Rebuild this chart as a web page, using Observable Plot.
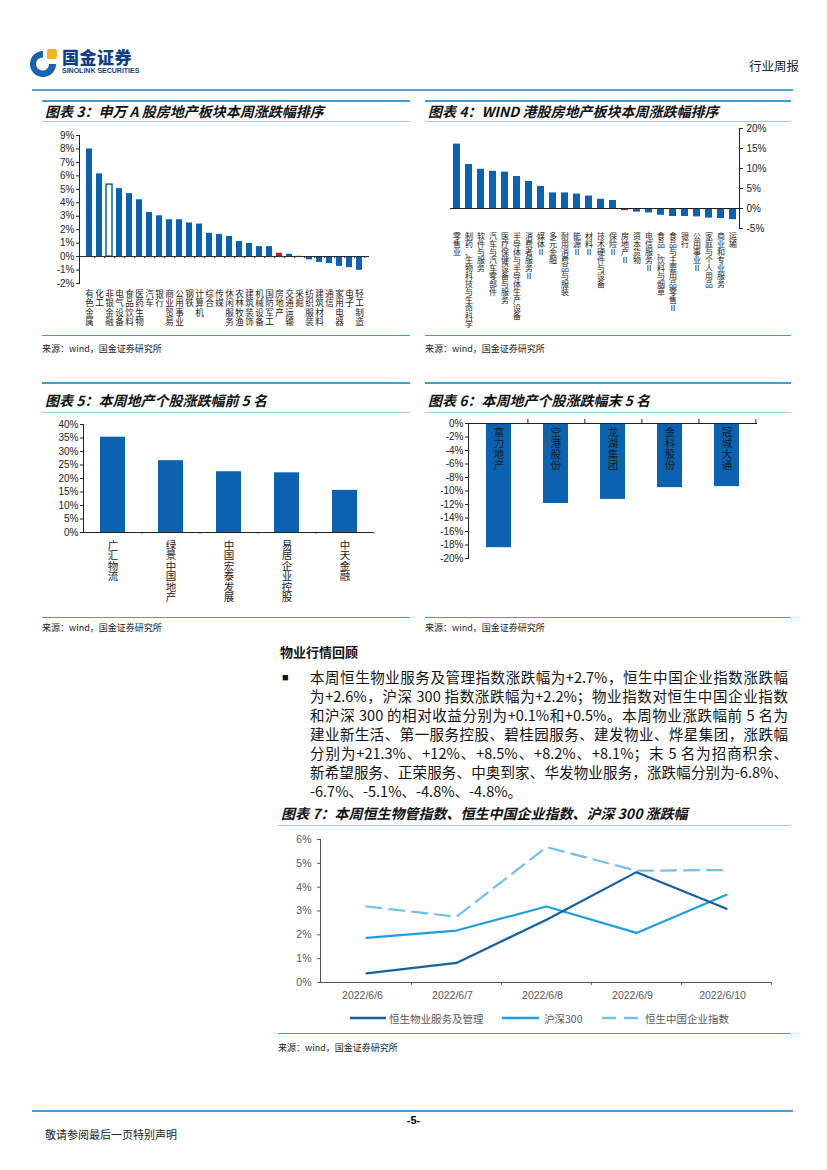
<!DOCTYPE html>
<html><head><meta charset="utf-8">
<script src="https://cdn.jsdelivr.net/npm/d3@7"></script>
<script src="https://cdn.jsdelivr.net/npm/@observablehq/plot@0.6"></script>
<style>
body{margin:0;background:#fff;}
#page{position:relative;width:827px;height:1170px;overflow:hidden;background:#fff;font-family:"Liberation Sans","Noto Sans CJK SC",sans-serif;color:#000;}
.abs{position:absolute;}
.ln{position:absolute;height:0;border-top:2px solid #3c9fd8;}
.ln1{position:absolute;height:0;border-top:1px solid #9ccfee;}
.title{position:absolute;font-family:"Noto Sans CJK SC";font-weight:700;font-style:italic;font-size:14px;white-space:nowrap;line-height:16px;color:#111;}
.src{position:absolute;font-family:"Noto Sans CJK SC";font-size:9px;line-height:11px;color:#222;white-space:nowrap;}
.para{position:absolute;left:310px;width:478px;font-family:"Noto Sans CJK SC";font-size:14.5px;line-height:16px;text-align:justify;text-align-last:justify;white-space:nowrap;color:#111;}
.chart{position:absolute;}
.chart svg{overflow:visible;}
.leg{position:absolute;font-family:"Noto Sans CJK SC","Liberation Sans";font-size:10.5px;color:#595959;line-height:12px;white-space:nowrap;}
</style></head>
<body><div id="page"></div>
<script>
// ---------------- DATA ----------------
const swCategories = ["有色金属","化工","非银金融","电气设备","食品饮料","医药生物","汽车","银行","商业贸易","公用事业","钢铁","计算机","综合","传媒","休闲服务","农林牧渔","建筑装饰","机械设备","国防军工","房地产","交通运输","采掘","纺织服装","建筑材料","通信","家用电器","电子","轻工制造"];
const swValues = [8.0,6.15,5.35,5.05,4.68,4.22,3.28,3.03,2.74,2.74,2.5,2.42,1.73,1.65,1.5,1.12,0.98,0.74,0.74,0.25,0.17,0.02,-0.24,-0.43,-0.52,-0.73,-0.82,-1.02];
const swHighlight = "房地产";
const swOutlined = "非银金融";
const swTicks = [-2,-1,0,1,2,3,4,5,6,7,8,9];

const hkCategories = ["零售业","制药、生物科技与生命科学","软件与服务","汽车与汽车零部件","医疗保健设备与服务","半导体与半导体生产设备","消费者服务Ⅱ","媒体Ⅱ","多元金融","耐用消费品与服装","能源Ⅱ","材料Ⅱ","技术硬件与设备","保险Ⅱ","房地产Ⅱ","资本货物","电信服务Ⅱ","食品、饮料与烟草","食品与主要用品零售Ⅱ","银行","公用事业Ⅱ","家庭与个人用品","商业和专业服务","运输"];
const hkValues = [16.1,11.0,9.8,9.3,9.1,8.0,6.75,5.5,3.9,3.9,3.6,3.1,2.3,2.0,-0.55,-0.9,-1.1,-1.7,-2.0,-2.0,-2.1,-2.4,-2.5,-2.8];
const hkHighlight = "房地产Ⅱ";
const hkTicks = [-5,0,5,10,15,20];

const topStocks = ["广汇物流","绿景中国地产","中国宏泰发展","易居企业控股","中天金融"];
const topValues = [35.3,26.6,22.5,22.1,15.6];
const topTicks = [0,5,10,15,20,25,30,35,40];

const bottomStocks = ["富力地产","空港股份","龙湖集团","金科股份","冠城大通"];
const bottomValues = [-18.4,-11.85,-11.25,-9.5,-9.35];
const bottomTicks = [-20,-18,-16,-14,-12,-10,-8,-6,-4,-2,0];

const dates = ["2022/6/6","2022/6/7","2022/6/8","2022/6/9","2022/6/10"];
const seriesNames = ["恒生物业服务及管理","沪深300","恒生中国企业指数"];
const hsPropertyMgmt = [0.38,0.82,2.63,4.63,3.09];
const csi300 = [1.87,2.18,3.19,2.08,3.68];
const hsChinaEnt = [3.19,2.76,5.68,4.69,4.72];
const lineTicks = [0,1,2,3,4,5,6];

const paraLines = [
 "本周恒生物业服务及管理指数涨跌幅为+2.7%，恒生中国企业指数涨跌幅",
 "为+2.6%，沪深 300 指数涨跌幅为+2.2%；物业指数对恒生中国企业指数",
 "和沪深 300 的相对收益分别为+0.1%和+0.5%。本周物业涨跌幅前 5 名为",
 "建业新生活、第一服务控股、碧桂园服务、建发物业、烨星集团，涨跌幅",
 "分别为+21.3%、+12%、+8.5%、+8.2%、+8.1%；末 5 名为招商积余、",
 "新希望服务、正荣服务、中奥到家、华发物业服务，涨跌幅分别为-6.8%、",
 "-6.7%、-5.1%、-4.8%、-4.8%。"
];

// ---------------- STYLE ----------------
const BLUE = "#0a62b0", RED = "#c8171e", AX = "#222";
const DARK = "#155fa3", MID = "#1e9fe0", LIGHT = "#70c1ee";
const pstyle = {fontFamily:"Liberation Sans, Noto Sans CJK SC, sans-serif", fontSize:"10px", color:"#222", background:"transparent", overflow:"visible"};
const page = document.getElementById("page");
function add(html){ page.insertAdjacentHTML("beforeend", html); }
function place(el, left, top){ const d=document.createElement("div"); d.className="chart"; d.style.left=left+"px"; d.style.top=top+"px"; d.appendChild(el); page.appendChild(d); }
const vert = s => s.split("").join("\n");

// ---------------- HEADER / FRAMES ----------------
add(`<svg class="abs" style="left:30px;top:47px" width="30" height="32" viewBox="0 0 30 32">
<path d="M13 4 A13 13 0 1 0 26 17 L19 17 A6.5 6.5 0 1 1 13 10.5 Z" fill="#1565b5"/>
<rect x="17" y="2" width="10" height="10" rx="2" fill="#f2b51c"/></svg>`);
add(`<div class="abs" style="left:62px;top:48px;font-family:'Noto Sans CJK SC';font-weight:900;font-size:17px;line-height:18px;color:#0d3f86;letter-spacing:0.5px">国金证券</div>`);
add(`<div class="abs" style="left:62px;top:67px;font-family:'Liberation Sans';font-weight:700;font-size:7px;line-height:8px;color:#0d3f86">SINOLINK SECURITIES</div>`);
add(`<div class="abs" style="left:749px;top:59px;font-family:'Noto Sans CJK SC';font-size:12.5px;line-height:14px;color:#222">行业周报</div>`);
add(`<div class="ln" style="left:32px;top:89px;width:761px;border-top-color:#4aa6d9"></div>`);

function frame(left, width, topLine, titleTop, underLine, bottomLine, srcTop, title){
  if (topLine!==null) add(`<div class="ln" style="left:${left}px;top:${topLine}px;width:${width}px"></div>`);
  add(`<div class="title" style="left:${left+3}px;top:${titleTop}px">${title}</div>`);
  add(`<div class="ln1" style="left:${left}px;top:${underLine}px;width:${width}px"></div>`);
  add(`<div class="ln" style="left:${left}px;top:${bottomLine}px;width:${width}px;border-top-width:1.5px"></div>`);
  add(`<div class="src" style="left:${left}px;top:${srcTop}px">来源：wind，国金证券研究所</div>`);
}
frame(42, 368, 100, 103, 121, 335, 343, "图表 3：申万 A 股房地产板块本周涨跌幅排序");
frame(425, 366, 100, 103, 121, 335, 343, "图表 4：WIND 港股房地产板块本周涨跌幅排序");
frame(42, 368, 382, 392, 412, 617, 622, "图表 5：本周地产个股涨跌幅前 5 名");
frame(425, 366, 382, 392, 412, 617, 622, "图表 6：本周地产个股涨跌幅末 5 名");
frame(278, 513, null, 805, 825, 1033, 1042, "图表 7：本周恒生物管指数、恒生中国企业指数、沪深 300 涨跌幅");

// ---------------- CHART 3 ----------------
{
  const data = swCategories.map((c,i)=>({c, v: swValues[i]}));
  const W = 290, step = W/swCategories.length;
  const ch = Plot.plot({
    width: 39+W+2, height: 10+148+50, marginLeft: 39, marginRight: 2, marginTop: 10, marginBottom: 50,
    style: pstyle,
    x: {domain: swCategories, paddingInner: 0.42, paddingOuter: 0.21, axis: null},
    y: {domain: [-2, 9], ticks: swTicks, tickFormat: d => d + "%", tickSize: 3, tickPadding: 2, label: null},
    marks: [
      Plot.barY(data, {x: "c", y: "v", fill: d => d.c === swHighlight ? RED : d.c === swOutlined ? "#fff" : BLUE, stroke: d => d.c === swOutlined ? BLUE : "none", strokeWidth: 1.5}),
      Plot.ruleY([0], {stroke: AX, strokeWidth: 1}),
      Plot.ruleX(swCategories, {x: d => d, y1: 0, y2: -0.15, dx: step/2, stroke: AX}),
      Plot.frame({anchor: "left", stroke: AX}),
      Plot.text(swCategories, {x: d => d, y: -2, text: vert, lineAnchor: "top", dy: 7, fontSize: 8.6, lineHeight: 1.08, fill: "#222"})
    ]
  });
  place(ch, 40, 125);
}

// ---------------- CHART 4 ----------------
{
  const data = hkCategories.map((c,i)=>({c, v: hkValues[i]}));
  const W = 289, step = W/hkCategories.length;
  const ch = Plot.plot({
    width: 25+W+40, height: 8+100+110, marginLeft: 25, marginRight: 40, marginTop: 8, marginBottom: 110,
    style: pstyle,
    x: {domain: hkCategories, paddingInner: 0.45, paddingOuter: 0.225, axis: null},
    y: {domain: [-5, 20], axis: "right", ticks: hkTicks, tickFormat: d => d + "%", tickSize: 3, tickPadding: 4, label: null},
    marks: [
      Plot.barY(data, {x: "c", y: "v", fill: d => d.c === hkHighlight ? RED : BLUE}),
      Plot.ruleY([0], {stroke: AX, strokeWidth: 1}),
      Plot.ruleX(hkCategories, {x: d => d, y1: 0, y2: -0.3, dx: step/2, stroke: AX}),
      Plot.frame({anchor: "right", stroke: AX}),
      Plot.text(hkCategories, {x: d => d, y: -5, text: vert, lineAnchor: "top", dy: 5, fontSize: 8, lineHeight: 1.0, fill: "#222"})
    ]
  });
  place(ch, 425, 120);
}

// ---------------- CHART 5 ----------------
{
  const data = topStocks.map((c,i)=>({c, v: topValues[i]}));
  const W = 290, step = W/topStocks.length;
  const ch = Plot.plot({
    width: 43+W+4, height: 9+108+70, marginLeft: 43, marginRight: 4, marginTop: 9, marginBottom: 70,
    style: pstyle,
    x: {domain: topStocks, paddingInner: 0.57, paddingOuter: 0.285, axis: null},
    y: {domain: [0, 40], ticks: topTicks, tickFormat: d => d + "%", tickSize: 3, tickPadding: 2, label: null},
    marks: [
      Plot.barY(data, {x: "c", y: "v", fill: BLUE}),
      Plot.ruleY([0], {stroke: AX}),
      Plot.ruleX(topStocks, {x: d => d, y1: 0, y2: -0.6, dx: step/2, stroke: AX}),
      Plot.frame({anchor: "left", stroke: AX}),
      Plot.text(topStocks, {x: d => d, y: 0, text: vert, lineAnchor: "top", dy: 9, fontSize: 10.5, lineHeight: 1.0, fill: "#222"})
    ]
  });
  place(ch, 40, 415);
}

// ---------------- CHART 6 ----------------
{
  const data = bottomStocks.map((c,i)=>({c, v: bottomValues[i]}));
  const W = 289, step = W/bottomStocks.length;
  const ch = Plot.plot({
    width: 48+W+4, height: 8+135+20, marginLeft: 48, marginRight: 4, marginTop: 8, marginBottom: 20,
    style: pstyle,
    x: {domain: bottomStocks, paddingInner: 0.57, paddingOuter: 0.285, axis: null},
    y: {domain: [-20, 0], ticks: bottomTicks, tickFormat: d => d + "%", tickSize: 3, tickPadding: 2, label: null},
    marks: [
      Plot.barY(data, {x: "c", y: "v", fill: BLUE}),
      Plot.ruleY([0], {stroke: AX}),
      Plot.ruleX(bottomStocks, {x: d => d, y1: 0, y2: 0.6, dx: step/2, stroke: AX}),
      Plot.frame({anchor: "left", stroke: AX}),
      Plot.text(bottomStocks, {x: d => d, y: 0, text: vert, lineAnchor: "top", dy: 5, fontSize: 10.5, lineHeight: 1.05, fill: "#1a1a1a"})
    ]
  });
  place(ch, 420, 415);
}

// ---------------- PARAGRAPH ----------------
add(`<div class="abs" style="left:280px;top:644px;font-family:'Noto Sans CJK SC';font-weight:700;font-size:13px;line-height:16px;color:#111">物业行情回顾</div>`);
add(`<div class="abs" style="left:282px;top:671px;font-size:11px;line-height:12px;color:#111">■</div>`);
paraLines.forEach((t,i) => {
  const last = i === paraLines.length - 1;
  add(`<div class="para" style="top:${669 + i*19}px;${last ? "text-align:left;text-align-last:left;" : ""}">${t}</div>`);
});

// ---------------- CHART 7 ----------------
{
  const rows = [];
  dates.forEach((d,i) => {
    rows.push({s: seriesNames[0], d, v: hsPropertyMgmt[i]});
    rows.push({s: seriesNames[1], d, v: csi300[i]});
    rows.push({s: seriesNames[2], d, v: hsChinaEnt[i]});
  });
  const W = 451, step = W/dates.length;
  const ch = Plot.plot({
    width: 45+W+10, height: 9+143+25, marginLeft: 45, marginRight: 10, marginTop: 9, marginBottom: 25,
    style: {...pstyle, color: "#595959", fontSize: "10.5px"},
    x: {type: "point", domain: dates, padding: 0.5, axis: null},
    y: {domain: [0, 6], ticks: lineTicks, tickFormat: d => d + "%", tickSize: 3, tickPadding: 6, label: null},
    marks: [
      Plot.frame({anchor: "left", stroke: "#555"}),
      Plot.ruleY([0], {stroke: "#555"}),
      Plot.ruleX(dates, {x: d => d, y1: 0, y2: -0.12, dx: step/2, stroke: "#555"}),
      Plot.line(rows.filter(r => r.s === seriesNames[2]), {x: "d", y: "v", stroke: LIGHT, strokeWidth: 2.2, strokeDasharray: "15,8"}),
      Plot.line(rows.filter(r => r.s === seriesNames[1]), {x: "d", y: "v", stroke: MID, strokeWidth: 2.2}),
      Plot.line(rows.filter(r => r.s === seriesNames[0]), {x: "d", y: "v", stroke: DARK, strokeWidth: 2.2}),
      Plot.text(dates, {x: d => d, y: 0, text: d => d, dy: 13, dx: -4, fill: "#595959", fontSize: 10.5})
    ]
  });
  place(ch, 275, 830);
}
// legend
add(`<svg class="abs" style="left:348px;top:1013px" width="45" height="10"><line x1="2" y1="5" x2="38" y2="5" stroke="${DARK}" stroke-width="2.5"/></svg>`);
add(`<div class="leg" style="left:389px;top:1013px">${seriesNames[0]}</div>`);
add(`<svg class="abs" style="left:500px;top:1013px" width="45" height="10"><line x1="2" y1="5" x2="39" y2="5" stroke="${MID}" stroke-width="2.5"/></svg>`);
add(`<div class="leg" style="left:544px;top:1013px">${seriesNames[1]}</div>`);
add(`<svg class="abs" style="left:600px;top:1013px" width="45" height="10"><line x1="2" y1="5" x2="40" y2="5" stroke="${LIGHT}" stroke-width="2.5" stroke-dasharray="14,8"/></svg>`);
add(`<div class="leg" style="left:645px;top:1013px">${seriesNames[2]}</div>`);

// ---------------- FOOTER ----------------
add(`<div class="ln" style="left:32px;top:1110px;width:761px;border-top-color:#3aa3dc"></div>`);
add(`<div class="abs" style="left:400px;top:1114px;width:27px;text-align:center;font-family:'Liberation Sans';font-weight:700;font-size:11px;line-height:12px">-5-</div>`);
add(`<div class="abs" style="left:45px;top:1128px;font-family:'Noto Sans CJK SC';font-size:11px;line-height:13px;color:#222">敬请参阅最后一页特别声明</div>`);
</script>
</body></html>
